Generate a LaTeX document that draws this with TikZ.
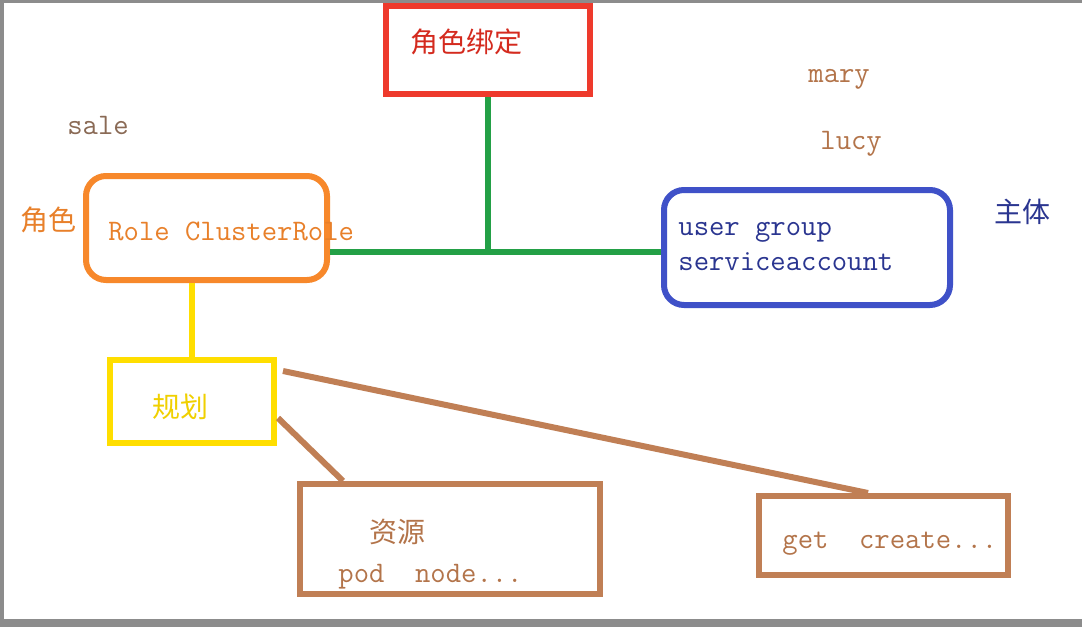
\documentclass[tikz,border=0pt]{standalone}
\usepackage{fontspec}
\newfontfamily\cjk{Noto Sans CJK SC}
\usetikzlibrary{calc}
\definecolor{framegray}{HTML}{8C8C8C}
\definecolor{bindred}{HTML}{EE3A2C}
\definecolor{bindtxt}{HTML}{D42A1E}
\definecolor{linkgreen}{HTML}{23A046}
\definecolor{roleorange}{HTML}{F7882B}
\definecolor{roletxt}{HTML}{E8802A}
\definecolor{subjblue}{HTML}{3F51C8}
\definecolor{subjtxt}{HTML}{2A3590}
\definecolor{planyellow}{HTML}{FFDE00}
\definecolor{plantxt}{HTML}{F0D000}
\definecolor{resbrown}{HTML}{C07F55}
\definecolor{restxt}{HTML}{B3744A}
\definecolor{saletxt}{HTML}{8A6A55}
\tikzset{
  box/.style      = {draw, line width=3pt, inner sep=0pt},
  bindbox/.style  = {box, bindred, minimum width=102pt, minimum height=44pt},
  rolebox/.style  = {box, roleorange, rounded corners=10pt, minimum width=120.5pt, minimum height=52pt},
  subjbox/.style  = {box, subjblue, rounded corners=10pt, minimum width=143pt, minimum height=57.5pt},
  planbox/.style  = {box, planyellow, minimum width=82pt, minimum height=41.5pt},
  resbox/.style   = {box, resbrown, minimum width=150pt, minimum height=55pt},
  verbbox/.style  = {box, resbrown, minimum width=124.5pt, minimum height=39.5pt},
  mono/.style     = {font=\fontsize{14.9}{16}\selectfont\ttfamily, inner sep=0pt, text height=7pt, text depth=0pt},
  han/.style      = {font=\fontsize{14}{16}\selectfont\cjk, inner sep=0pt},
  link/.style     = {line width=3pt}
}

\begin{document}
\begin{tikzpicture}[x=0.5pt,y=-0.5pt]
  \fill[framegray] (0,0) rectangle (1082,627);
  \fill[white] (4,3) rectangle (1082,619);
  \useasboundingbox (0,0) rectangle (1082,627);
  % boxes
  \node[bindbox] (bind) at (488,50) {};
  \node[rolebox] (role) at (206.5,228) {};
  \node[subjbox] (subj) at (807,247.5) {};
  \node[planbox] (plan) at (192,401.5) {};
  \node[resbox]  (res)  at (450,539) {};
  \node[verbbox] (verb) at (883.5,535.5) {};
  % texts
  \node[han,bindtxt]          (bindname) at (466,42)  {角色绑定};
  \node[han,roletxt]          (rolename) at (48,220)  {角色};
  \node[han,subjtxt]          (subjname) at (1022,212) {主体};
  \node[han,plantxt]          (planname) at (180,407) {规划};
  \node[han,restxt]           (resname)  at (397,532) {资源};
  \node[mono,saletxt,anchor=west] (sale) at (67,127)  {sale};
  \node[mono,restxt,anchor=west]  (mary) at (808,75)  {mary};
  \node[mono,restxt,anchor=west]  (lucy) at (820,142) {lucy};
  \node[mono,roletxt,anchor=west] (roles) at (108,233) {Role ClusterRole};
  \node[mono,subjtxt,anchor=west] (users) at (678,228) {user group};
  \node[mono,subjtxt,anchor=west] (sa)    at (678,263) {serviceaccount};
  \node[mono,restxt,anchor=west]  (kinds) at (338,575) {pod\ \ node...};
  \node[mono,restxt,anchor=west]  (verbs) at (782,541) {get\ \ create...};
  % connectors
  \coordinate (jn) at (490,252);
  \draw[link,linkgreen] (bind.south) -- (bind.south |- jn);
  \draw[link,linkgreen] (role.east |- jn) -- (subj.west |- jn);
  \draw[link,planyellow] (plan.north) -- (plan.north |- role.south);
  \coordinate (fan) at (283,371);
  \draw[link,resbrown] (fan) -- ($(verb.north west)+(112,0)$);
  \draw[link,resbrown] ($(plan.east)+(1,16.5)$) -- ($(res.north west)+(46,0)$);
\end{tikzpicture}
\end{document}
